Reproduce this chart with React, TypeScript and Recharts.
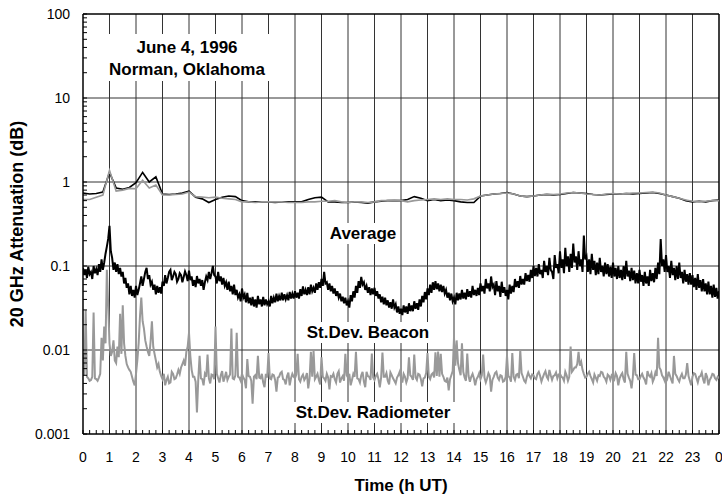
import { LineChart, Line, XAxis, YAxis, CartesianGrid, ReferenceLine } from "recharts";

// St.Dev. Beacon, every 0.05 h from 0 to 24 h UT (one row per hour)
const sdBeacon = [
  0.095, 0.078, 0.09, 0.072, 0.098, 0.08, 0.085, 0.07, 0.1, 0.082, 0.092, 0.078, 0.105, 0.085, 0.12, 0.09, 0.11, 0.14, 0.17, 0.21,
  0.3, 0.15, 0.125, 0.09, 0.11, 0.085, 0.105, 0.08, 0.095, 0.075, 0.085, 0.062, 0.072, 0.055, 0.062, 0.046, 0.058, 0.044, 0.052, 0.042,
  0.058, 0.045, 0.052, 0.062, 0.075, 0.058, 0.07, 0.085, 0.095, 0.07, 0.078, 0.06, 0.065, 0.052, 0.06, 0.046, 0.058, 0.048, 0.056, 0.047,
  0.065, 0.058, 0.078, 0.062, 0.072, 0.085, 0.09, 0.068, 0.075, 0.085, 0.08, 0.065, 0.07, 0.082, 0.078, 0.064, 0.074, 0.086, 0.078, 0.066,
  0.088, 0.068, 0.075, 0.058, 0.068, 0.056, 0.076, 0.062, 0.07, 0.058, 0.068, 0.052, 0.064, 0.075, 0.068, 0.085, 0.07, 0.082, 0.1, 0.078,
  0.075, 0.062, 0.085, 0.066, 0.075, 0.06, 0.072, 0.058, 0.064, 0.052, 0.065, 0.05, 0.058, 0.046, 0.06, 0.045, 0.052, 0.042, 0.046, 0.038,
  0.054, 0.042, 0.046, 0.037, 0.048, 0.036, 0.042, 0.034, 0.043, 0.033, 0.04, 0.032, 0.044, 0.035, 0.04, 0.033, 0.043, 0.034, 0.04, 0.035,
  0.038, 0.033, 0.044, 0.036, 0.042, 0.037, 0.047, 0.038, 0.044, 0.039, 0.048, 0.039, 0.046, 0.04, 0.045, 0.039, 0.049, 0.041, 0.047, 0.041,
  0.05, 0.042, 0.048, 0.041, 0.053, 0.044, 0.057, 0.046, 0.052, 0.045, 0.056, 0.046, 0.06, 0.05, 0.055, 0.048, 0.062, 0.052, 0.064, 0.055,
  0.07, 0.058, 0.085, 0.062, 0.064, 0.052, 0.062, 0.05, 0.058, 0.047, 0.054, 0.044, 0.05, 0.042, 0.047, 0.038, 0.043, 0.036, 0.042, 0.034,
  0.038, 0.032, 0.045, 0.038, 0.05, 0.042, 0.058, 0.048, 0.066, 0.055, 0.074, 0.06, 0.064, 0.052, 0.058, 0.048, 0.056, 0.045, 0.054, 0.046,
  0.055, 0.044, 0.05, 0.041, 0.046, 0.037, 0.043, 0.035, 0.042, 0.034, 0.039, 0.032, 0.037, 0.031, 0.04, 0.032, 0.035, 0.028, 0.033, 0.027,
  0.031, 0.026, 0.034, 0.028, 0.033, 0.027, 0.036, 0.029, 0.034, 0.029, 0.038, 0.031, 0.036, 0.03, 0.04, 0.033, 0.044, 0.037, 0.049, 0.04,
  0.054, 0.045, 0.06, 0.048, 0.064, 0.052, 0.066, 0.053, 0.062, 0.05, 0.06, 0.049, 0.058, 0.047, 0.052, 0.042, 0.048, 0.039, 0.047, 0.038,
  0.042, 0.035, 0.048, 0.039, 0.047, 0.04, 0.052, 0.041, 0.048, 0.04, 0.053, 0.043, 0.05, 0.042, 0.058, 0.045, 0.052, 0.044, 0.055, 0.045,
  0.062, 0.05, 0.058, 0.047, 0.07, 0.054, 0.062, 0.05, 0.075, 0.056, 0.06, 0.045, 0.066, 0.05, 0.058, 0.043, 0.065, 0.048, 0.056, 0.044,
  0.052, 0.04, 0.06, 0.047, 0.058, 0.049, 0.07, 0.056, 0.066, 0.055, 0.076, 0.06, 0.07, 0.06, 0.082, 0.066, 0.078, 0.065, 0.09, 0.072,
  0.1, 0.076, 0.095, 0.075, 0.105, 0.08, 0.09, 0.072, 0.115, 0.085, 0.1, 0.078, 0.125, 0.09, 0.085, 0.07, 0.135, 0.095, 0.105, 0.082,
  0.15, 0.095, 0.12, 0.082, 0.165, 0.1, 0.13, 0.085, 0.14, 0.095, 0.185, 0.11, 0.13, 0.09, 0.15, 0.1, 0.12, 0.085, 0.23, 0.12,
  0.13, 0.085, 0.12, 0.08, 0.14, 0.09, 0.115, 0.078, 0.11, 0.08, 0.125, 0.085, 0.1, 0.075, 0.11, 0.08, 0.105, 0.075, 0.098, 0.072,
  0.11, 0.075, 0.095, 0.07, 0.1, 0.072, 0.09, 0.068, 0.1, 0.07, 0.115, 0.075, 0.088, 0.066, 0.095, 0.068, 0.088, 0.062, 0.082, 0.062,
  0.09, 0.065, 0.078, 0.058, 0.085, 0.062, 0.075, 0.058, 0.09, 0.066, 0.082, 0.064, 0.095, 0.07, 0.11, 0.08, 0.21, 0.1, 0.12, 0.085,
  0.135, 0.085, 0.1, 0.072, 0.115, 0.078, 0.095, 0.068, 0.1, 0.07, 0.11, 0.072, 0.085, 0.062, 0.09, 0.065, 0.08, 0.06, 0.082, 0.06,
  0.078, 0.056, 0.072, 0.052, 0.08, 0.055, 0.068, 0.05, 0.07, 0.05, 0.062, 0.046, 0.065, 0.046, 0.058, 0.042, 0.06, 0.043, 0.055, 0.041,
  0.05,
];

// St.Dev. Radiometer, every 0.05 h (one row per hour)
const sdRadiometer = [
  0.0088, 0.005, 0.03, 0.0048, 0.0046, 0.0043, 0.0044, 0.0048, 0.028, 0.0046, 0.0045, 0.0043, 0.0047, 0.0052, 0.014, 0.0075, 0.019, 0.012, 0.09, 0.035,
  0.012, 0.0085, 0.0095, 0.013, 0.0075, 0.007, 0.011, 0.0082, 0.027, 0.009, 0.034, 0.012, 0.0085, 0.0068, 0.0062, 0.0058, 0.0055, 0.0048, 0.0042, 0.0038,
  0.0052, 0.0075, 0.012, 0.025, 0.042, 0.022, 0.018, 0.013, 0.011, 0.0095, 0.0085, 0.0125, 0.022, 0.011, 0.009, 0.0075, 0.0062, 0.0068, 0.0055, 0.0049,
  0.0045, 0.0052, 0.0038, 0.0044, 0.0048, 0.004, 0.0041, 0.0055, 0.0052, 0.0045, 0.0046, 0.0051, 0.0058, 0.0052, 0.0062, 0.0068, 0.0075, 0.0065, 0.0095, 0.011,
  0.016, 0.0085, 0.0058, 0.0048, 0.0048, 0.0042, 0.0018, 0.0045, 0.0085, 0.0046, 0.0045, 0.0038, 0.0052, 0.0048, 0.0088, 0.0046, 0.004, 0.0051, 0.005, 0.0045,
  0.019, 0.0052, 0.0046, 0.0041, 0.005, 0.0056, 0.0042, 0.0047, 0.0055, 0.0044, 0.0048, 0.0051, 0.018, 0.0046, 0.0045, 0.005, 0.016, 0.0048, 0.0047, 0.0043,
  0.0052, 0.0047, 0.0044, 0.0035, 0.0078, 0.0049, 0.0048, 0.0043, 0.0023, 0.0048, 0.005, 0.0045, 0.0085, 0.0047, 0.0046, 0.0052, 0.0041, 0.0036, 0.0052, 0.0047,
  0.0092, 0.0046, 0.0045, 0.0051, 0.005, 0.0044, 0.0032, 0.0047, 0.0048, 0.0053, 0.0055, 0.0045, 0.0044, 0.0039, 0.0049, 0.0054, 0.0038, 0.0046, 0.0052, 0.0048,
  0.0046, 0.0051, 0.009, 0.0045, 0.0042, 0.0048, 0.0051, 0.0044, 0.0047, 0.0053, 0.0035, 0.0046, 0.0095, 0.0048, 0.0098, 0.0045, 0.0048, 0.0052, 0.0044, 0.0039,
  0.0082, 0.0048, 0.0046, 0.0043, 0.0052, 0.0047, 0.0034, 0.0049, 0.0048, 0.0052, 0.0045, 0.0041, 0.0052, 0.0056, 0.0041, 0.0046, 0.0049, 0.0043, 0.009, 0.005,
  0.0047, 0.0052, 0.0038, 0.0044, 0.0052, 0.0048, 0.0095, 0.0046, 0.0045, 0.0041, 0.005, 0.0055, 0.0042, 0.0036, 0.0055, 0.0049, 0.0048, 0.0044, 0.0091, 0.0047,
  0.0044, 0.0049, 0.0052, 0.0045, 0.0036, 0.0047, 0.0093, 0.0048, 0.0048, 0.0053, 0.0043, 0.0039, 0.0054, 0.005, 0.0046, 0.0043, 0.004, 0.0047, 0.005, 0.0055,
  0.0046, 0.0041, 0.0052, 0.0048, 0.0041, 0.0046, 0.0082, 0.005, 0.0048, 0.0044, 0.0088, 0.0047, 0.0044, 0.0052, 0.0051, 0.0045, 0.0037, 0.0046, 0.0047, 0.0053,
  0.0092, 0.0048, 0.0045, 0.0051, 0.0053, 0.0047, 0.0094, 0.0049, 0.0096, 0.0048, 0.009, 0.0052, 0.0048, 0.0043, 0.0042, 0.0047, 0.0033, 0.0045, 0.005, 0.0056,
  0.014, 0.0065, 0.013, 0.007, 0.0058, 0.005, 0.012, 0.0055, 0.0047, 0.0043, 0.0091, 0.0049, 0.0042, 0.0048, 0.0052, 0.0046, 0.0038, 0.0045, 0.0048, 0.0053,
  0.0045, 0.005, 0.0088, 0.0047, 0.0041, 0.0046, 0.0053, 0.0049, 0.0032, 0.0044, 0.0048, 0.0053, 0.0055, 0.0047, 0.0044, 0.005, 0.0049, 0.0042, 0.0043, 0.0048,
  0.0085, 0.0049, 0.0047, 0.0042, 0.0092, 0.0048, 0.0044, 0.0051, 0.0052, 0.0046, 0.01, 0.0053, 0.0048, 0.0043, 0.0041, 0.0048, 0.0054, 0.0049, 0.0046, 0.0051,
  0.005, 0.0046, 0.0045, 0.0052, 0.0055, 0.0049, 0.0042, 0.0047, 0.0052, 0.0056, 0.0048, 0.0045, 0.0058, 0.005, 0.0044, 0.0049, 0.005, 0.0054, 0.0046, 0.0051,
  0.0052, 0.0048, 0.0047, 0.0043, 0.0055, 0.005, 0.0043, 0.0048, 0.011, 0.0055, 0.0058, 0.0062, 0.0062, 0.0068, 0.0095, 0.0065, 0.0072, 0.0058, 0.0052, 0.0047,
  0.0048, 0.0052, 0.0055, 0.0049, 0.0045, 0.0041, 0.0051, 0.0047, 0.0043, 0.005, 0.0049, 0.0055, 0.0054, 0.0048, 0.0046, 0.0042, 0.0051, 0.0049, 0.0044, 0.005,
  0.0048, 0.0045, 0.0053, 0.0049, 0.0038, 0.0046, 0.005, 0.0053, 0.0045, 0.0041, 0.0095, 0.0052, 0.0047, 0.0043, 0.0035, 0.0048, 0.0092, 0.0051, 0.005, 0.0045,
  0.0045, 0.0049, 0.0052, 0.0047, 0.0044, 0.0039, 0.0056, 0.005, 0.0048, 0.0053, 0.0042, 0.0046, 0.0054, 0.0049, 0.014, 0.0062, 0.0058, 0.005, 0.0047, 0.0043,
  0.005, 0.0046, 0.0055, 0.0049, 0.0044, 0.004, 0.0085, 0.0052, 0.0049, 0.0045, 0.0042, 0.0048, 0.0052, 0.0046, 0.0046, 0.0051, 0.007, 0.0049, 0.0043, 0.0038,
  0.0048, 0.0053, 0.0052, 0.0046, 0.0041, 0.0048, 0.0049, 0.0054, 0.0045, 0.004, 0.0053, 0.0048, 0.0038, 0.0044, 0.0047, 0.0052, 0.0051, 0.0046, 0.0044, 0.0048,
  0.0046,
];

// Average beacon attenuation, every 0.25 h
const avgBeacon = [
  0.74, 0.72, 0.73, 0.76,
  1.3, 0.85, 0.82, 0.86,
  0.98, 1.3, 1.0, 1.15,
  0.72, 0.71, 0.72, 0.74,
  0.78, 0.66, 0.63, 0.57,
  0.62, 0.66, 0.68, 0.67,
  0.6, 0.58, 0.58, 0.58,
  0.58, 0.57, 0.58, 0.58,
  0.58, 0.58, 0.62, 0.65,
  0.66, 0.58, 0.58, 0.57,
  0.57, 0.58, 0.57, 0.56,
  0.58, 0.59, 0.6, 0.6,
  0.6, 0.62, 0.67, 0.64,
  0.6, 0.62, 0.6, 0.61,
  0.6, 0.58, 0.57, 0.57,
  0.68, 0.7, 0.72, 0.73,
  0.75, 0.72, 0.68, 0.67,
  0.68, 0.7, 0.71, 0.7,
  0.71, 0.73, 0.75, 0.74,
  0.73, 0.71, 0.7, 0.71,
  0.72, 0.72, 0.73, 0.72,
  0.73, 0.74, 0.75, 0.73,
  0.7, 0.67, 0.64, 0.6,
  0.58, 0.59, 0.58, 0.6,
  0.61,
];

// Average radiometer attenuation, every 0.25 h
const avgRadiometer = [
  0.62, 0.62, 0.66, 0.7,
  1.38, 0.78, 0.8, 0.84,
  0.83, 1.05, 0.85, 0.92,
  0.7, 0.7, 0.71, 0.72,
  0.76, 0.67, 0.66, 0.65,
  0.66, 0.64, 0.63, 0.62,
  0.58, 0.58, 0.57, 0.58,
  0.58, 0.58, 0.58, 0.57,
  0.57, 0.57, 0.58, 0.58,
  0.59, 0.59, 0.6, 0.58,
  0.57, 0.58, 0.58, 0.57,
  0.58, 0.6, 0.6, 0.61,
  0.6, 0.58, 0.6, 0.61,
  0.62, 0.63, 0.62, 0.63,
  0.62, 0.62, 0.61, 0.63,
  0.68, 0.7, 0.72, 0.73,
  0.74, 0.72, 0.68, 0.67,
  0.68, 0.7, 0.72, 0.71,
  0.72, 0.74, 0.75, 0.74,
  0.72, 0.71, 0.7, 0.72,
  0.73, 0.72, 0.73, 0.74,
  0.74, 0.75, 0.76, 0.74,
  0.7, 0.67, 0.64, 0.61,
  0.59, 0.58, 0.59, 0.6,
  0.6,
];

const hourTicks = Array.from({ length: 97 }, (_, i) => i / 4);
const gridHours = Array.from({ length: 23 }, (_, i) => i + 1);
const decades = [0.001, 0.01, 0.1, 1, 10, 100];
const logTicks = [
  0.001, 0.002, 0.003, 0.004, 0.005, 0.006, 0.007, 0.008, 0.009,
  0.01, 0.02, 0.03, 0.04, 0.05, 0.06, 0.07, 0.08, 0.09,
  0.1, 0.2, 0.3, 0.4, 0.5, 0.6, 0.7, 0.8, 0.9,
  1, 2, 3, 4, 5, 6, 7, 8, 9,
  10, 20, 30, 40, 50, 60, 70, 80, 90, 100,
];

// samples are evenly spaced over the 24 h day
const toSeries = (vals: number[]) =>
  vals.map((v, i) => ({ t: (i * 24) / (vals.length - 1), v }));

const FONT = "'Liberation Sans', Arial, Helvetica, sans-serif";

const XTick = (props: any) => {
  const { x, y, payload } = props;
  const v = payload.value;
  const major = Number.isInteger(v);
  return (
    <g>
      <line x1={x} x2={x} y1={y} y2={y - 4} stroke="#000" strokeWidth={1} />
      {major && (
        <text x={x} y={y + 28} textAnchor="middle" fontSize={14} fontFamily={FONT} fill="#000">
          {v === 24 ? "0" : String(v)}
        </text>
      )}
    </g>
  );
};

const YTick = (props: any) => {
  const { x, y, payload } = props;
  const v = payload.value;
  const major = decades.includes(v);
  return (
    <g>
      <line x1={x} x2={x + 4} y1={y} y2={y} stroke="#000" strokeWidth={1} />
      {major && (
        <text x={x - 13} y={y + 5} textAnchor="end" fontSize={14} fontFamily={FONT} fill="#000">
          {String(v)}
        </text>
      )}
    </g>
  );
};

const notes = [
  { text: "June 4, 1996", x: 187, y: 53 },
  { text: "Norman, Oklahoma", x: 187, y: 75 },
  { text: "Average", x: 363, y: 239 },
  { text: "St.Dev. Beacon", x: 368, y: 338 },
  { text: "St.Dev. Radiometer", x: 373, y: 418 },
];

export default function App() {
  return (
    <div style={{ position: "absolute", left: 0, top: 0, width: 722, height: 497, background: "#fff" }}>
      <LineChart width={722} height={497} margin={{ top: 14, right: 3, bottom: 0, left: 0 }}>
        <CartesianGrid
          stroke="#333"
          strokeWidth={1}
          verticalValues={gridHours}
          horizontalValues={[0.01, 0.1, 1, 10]}
        />
        <XAxis
          dataKey="t"
          type="number"
          domain={[0, 24]}
          ticks={hourTicks}
          interval={0}
          tickSize={0}
          tickMargin={0}
          tick={<XTick />}
          height={63}
          allowDataOverflow
          axisLine={{ stroke: "#000", strokeWidth: 1.5 }}
        />
        <YAxis
          type="number"
          scale="log"
          domain={[0.001, 100]}
          ticks={logTicks}
          interval={0}
          tickSize={0}
          tickMargin={0}
          tick={<YTick />}
          width={83}
          allowDataOverflow
          axisLine={{ stroke: "#000", strokeWidth: 1.5 }}
        />
        <ReferenceLine y={100} stroke="#000" strokeWidth={1.5} />
        <ReferenceLine x={24} stroke="#000" strokeWidth={1.5} />
        <Line data={toSeries(avgBeacon)} dataKey="v" stroke="#000" strokeWidth={1.6} dot={false} isAnimationActive={false} />
        <Line data={toSeries(avgRadiometer)} dataKey="v" stroke="#999" strokeWidth={1.6} dot={false} isAnimationActive={false} />
        <Line data={toSeries(sdBeacon)} dataKey="v" stroke="#000" strokeWidth={2} dot={false} isAnimationActive={false} />
        <Line data={toSeries(sdRadiometer)} dataKey="v" stroke="#999" strokeWidth={2} dot={false} isAnimationActive={false} />
      </LineChart>
      <svg width={722} height={497} style={{ position: "absolute", left: 0, top: 0, pointerEvents: "none" }}>
        <rect x={100} y={34} width={172} height={47} fill="#fff" />
        <rect x={328} y={223} width={72} height={21} fill="#fff" />
        <rect x={302} y={322} width={134} height={21} fill="#fff" />
        <rect x={290} y={402} width={166} height={21} fill="#fff" />
        {notes.map((n) => (
          <text key={n.text} x={n.x} y={n.y} textAnchor="middle" fontSize={17} fontWeight="bold" fontFamily={FONT} fill="#000">
            {n.text}
          </text>
        ))}
        <text x={401} y={491} textAnchor="middle" fontSize={17} fontWeight="bold" fontFamily={FONT} fill="#000">
          Time (h UT)
        </text>
        <text
          transform="translate(23, 224) rotate(-90)"
          textAnchor="middle"
          fontSize={18}
          fontWeight="bold"
          fontFamily={FONT}
          fill="#000"
        >
          20 GHz Attenuation (dB)
        </text>
      </svg>
    </div>
  );
}
